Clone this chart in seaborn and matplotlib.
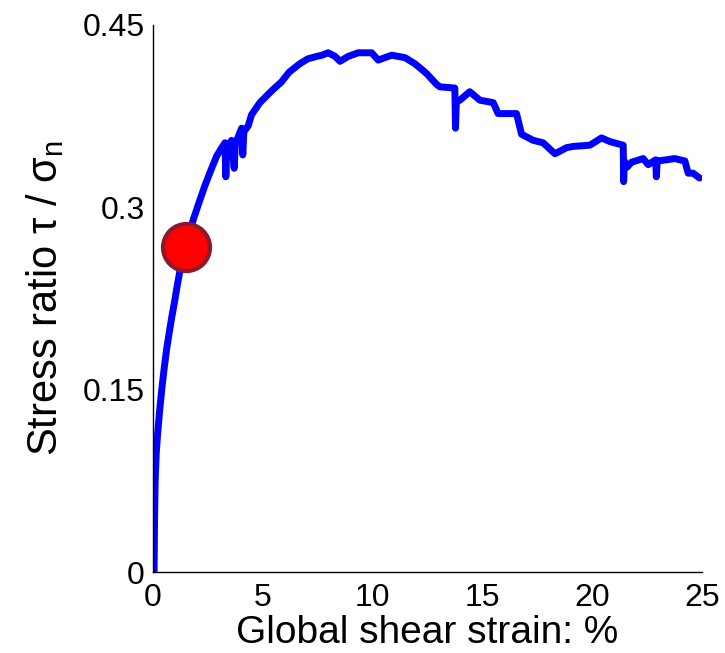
import matplotlib
matplotlib.use("Agg")
import matplotlib.pyplot as plt
import seaborn as sns
import pandas as pd

strain = [0.0, 0.05, 0.07, 0.10, 0.15, 0.21, 0.30, 0.40, 0.50, 0.62, 0.75, 0.85, 1.00, 1.10, 1.23,
          1.50, 1.84, 2.10, 2.37, 2.65, 2.90, 3.10,
          3.28, 3.32, 3.36, 3.58, 3.70, 3.75, 4.04, 4.09, 4.14, 4.34, 4.49, 4.87, 5.20, 5.48, 5.85,
          6.20, 6.69, 7.05, 7.45, 7.70, 7.98, 8.30, 8.52, 8.89, 9.35, 9.96, 10.26, 10.87, 11.48,
          11.93, 12.20, 12.46, 12.92, 13.07, 13.75, 13.78, 13.82, 13.98, 14.43, 14.89, 15.50,
          15.72, 16.56, 16.79, 17.32, 17.77, 18.31, 18.53, 18.84, 19.14, 19.90, 20.43, 20.81,
          21.42, 21.44, 21.47, 21.60, 21.80, 22.33, 22.56, 22.90, 22.93, 22.97, 23.39, 23.77,
          24.23, 24.38, 24.60, 24.90]
ratio = [0.0, 0.0, 0.04, 0.075, 0.098, 0.113, 0.132, 0.150, 0.166, 0.183, 0.198, 0.209, 0.224,
         0.235, 0.248, 0.268, 0.290, 0.304, 0.318, 0.331, 0.342, 0.348,
         0.353, 0.325, 0.348, 0.355, 0.332, 0.352, 0.365, 0.343, 0.362, 0.367, 0.376, 0.386, 0.392,
         0.397, 0.403, 0.411, 0.418, 0.422, 0.424, 0.425, 0.427, 0.424, 0.420, 0.424, 0.427,
         0.427, 0.421, 0.425, 0.423, 0.418, 0.414, 0.410, 0.401, 0.399, 0.398, 0.365, 0.387,
         0.388, 0.395, 0.388, 0.386, 0.377, 0.377, 0.360, 0.355, 0.353, 0.344, 0.346, 0.349,
         0.350, 0.351, 0.357, 0.354, 0.351, 0.321, 0.338, 0.333, 0.337, 0.340, 0.335, 0.339,
         0.325, 0.338, 0.339, 0.340, 0.338, 0.328, 0.328, 0.324]

marker_strain = [1.5]
marker_ratio = [0.267]

x_ticks = [0, 5, 10, 15, 20, 25]
y_ticks = [0, 0.15, 0.3, 0.45]
y_ticklabels = ["0", "0.15", "0.3", "0.45"]

sns.set_theme(style="white")
plt.rcParams["font.family"] = ["Liberation Sans", "DejaVu Sans"]
plt.rcParams["mathtext.fontset"] = "custom"
plt.rcParams["mathtext.rm"] = "Liberation Sans"
plt.rcParams["mathtext.it"] = "Liberation Sans:italic"
plt.rcParams["text.color"] = "black"
plt.rcParams["axes.labelcolor"] = "black"

df = pd.DataFrame({"strain": strain, "ratio": ratio})
dm = pd.DataFrame({"strain": marker_strain, "ratio": marker_ratio})

fig = plt.figure(figsize=(7.25, 6.53), dpi=100)
ax = fig.add_axes([0.211, 0.124, 0.757, 0.838])

sns.lineplot(data=df, x="strain", y="ratio", sort=False, estimator=None, ax=ax,
             color="#0000ff", linewidth=5.0, solid_capstyle="round", solid_joinstyle="round")
sns.scatterplot(data=dm, x="strain", y="ratio", ax=ax, s=1150, color="#ff0000",
                edgecolor="#8c1a2a", linewidth=3.0, zorder=5)

ax.set_xlim(0, 25)
ax.set_ylim(0, 0.45)
ax.set_xticks(x_ticks)
ax.set_xticklabels([str(t) for t in x_ticks])
ax.set_yticks(y_ticks)
ax.set_yticklabels(y_ticklabels)

for s in ["top", "right"]:
    ax.spines[s].set_visible(False)
for s in ["left", "bottom"]:
    ax.spines[s].set_color("black")
    ax.spines[s].set_linewidth(1.0)

ax.tick_params(axis="both", direction="in", length=3.5, width=0.8, colors="black",
               labelsize=23)
ax.tick_params(axis="x", pad=8)
ax.tick_params(axis="y", pad=6)

ax.set_xlabel("Global shear strain: %", fontsize=28, labelpad=1, color="black")
ax.set_ylabel("Stress ratio τ / σ$_\\mathregular{n}$", fontsize=30, labelpad=12, color="black")

fig.savefig("out.png", dpi=100)
